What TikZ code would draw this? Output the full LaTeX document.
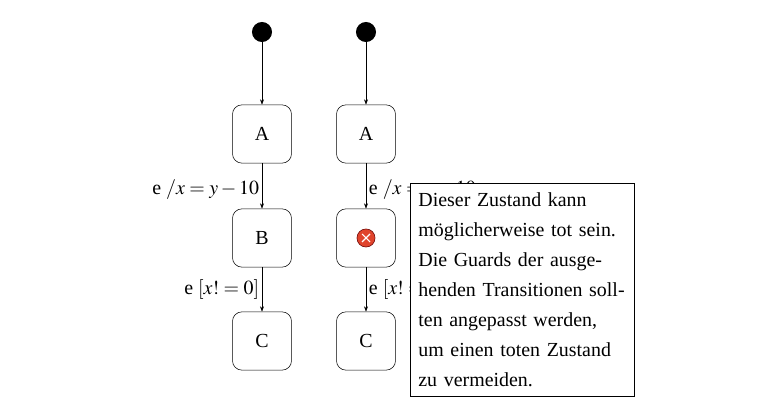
\documentclass[tikz,border=0pt]{standalone}
\usepackage{mathptmx}
\usepackage[no-math]{fontspec}
\setmainfont{Liberation Serif}
\usetikzlibrary{arrows.meta,calc}
\definecolor{errred}{HTML}{E0442C}
\tikzset{
	state/.style={draw, rounded corners=7pt, minimum width=1.56cm, minimum height=1.54cm, font=\fontsize{15}{17}\selectfont},
	start/.style={circle, fill=black, inner sep=0pt, minimum size=0.53cm},
	trans/.style={-{Stealth[length=4pt,width=3pt]}},
	lbl/.style={font=\fontsize{15}{17}\selectfont, inner sep=2pt}
}
\begin{document}
\begin{tikzpicture}[x=0.02646cm, y=-0.02646cm]
		\useasboundingbox (0, 0) rectangle (768, 409);

		\node[start] (s1) at (262, 32) {};
		\node[state] (a1) at (262, 134) {A};
		\node[state] (b1) at (262, 238) {B};
		\node[state] (c1) at (262, 341) {C};

		\node[start] (s2) at (366, 32) {};
		\node[state] (a2) at (366, 134) {A};
		\node[state] (b2) at (366, 238) {};
		\node[state] (c2) at (366, 341) {C};

		\draw[trans] (s1) -- (a1);
		\draw[trans] (a1) -- node[lbl, left, yshift=-0.1cm]{e $/x=y-10$} (b1);
		\draw[trans] (b1) -- node[lbl, left]{e $[x!=0]$} (c1);

		\draw[trans] (s2) -- (a2);
		\draw[trans] (a2) -- node[lbl, right, yshift=-0.1cm]{e $/x=y-10$} (b2);
		\draw[trans] (b2) -- node[lbl, right]{e $[x!=0]$} (c2);

		% dead state marker
		\node[circle, fill=errred, draw=red!40!black, inner sep=0pt, minimum size=0.48cm] (err) at (b2) {};
		\draw[white, line width=0.8pt] ($(err)+(-4,-4)$) -- ($(err)+(4,4)$)
			($(err)+(-4,4)$) -- ($(err)+(4,-4)$);

		\node[draw, fill=white, anchor=north west, minimum width=5.93cm, minimum height=5.64cm,
			text width=5.5cm, align=left, inner xsep=0.2cm, inner ysep=0pt, font=\fontsize{15}{22.5}\selectfont] (note) at (410, 183)
			{Dieser Zustand kann\\ möglicherweise tot sein.\\ Die Guards der ausge-\\ henden Transitionen soll-\\ ten angepasst werden,\\ um einen toten Zustand\\ zu vermeiden.};
\end{tikzpicture}
\end{document}
